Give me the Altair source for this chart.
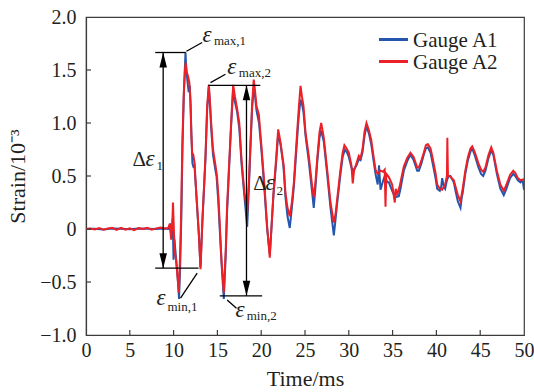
import altair as alt
import pandas as pd

# ---------------- data ----------------
t_a1 = [0, 1, 2, 3, 4, 5, 6, 7, 8, 9, 9.4,
        9.6, 9.75, 9.9, 9.99, 10.1, 10.2, 10.35, 10.5, 10.62, 10.75, 10.88, 11.02, 11.18, 11.3, 11.36,
        11.45, 11.6, 11.72, 11.85, 11.95, 12.05, 12.15, 12.25, 12.38, 12.5, 12.7, 12.9, 13.07,
        13.3, 13.5, 13.64, 13.83, 14.02, 14.15, 14.29, 14.5, 14.78, 14.9, 15.1, 15.47, 15.73,
        15.95, 16.1, 16.27, 16.55, 16.8, 17.0, 17.26, 17.5, 17.75, 18.09, 18.4, 18.6, 18.78,
        18.97, 19.15, 19.3, 19.46, 19.75, 20.03, 20.38, 20.68, 20.98, 21.2, 21.4, 21.7, 21.94,
        22.2, 22.5, 22.6, 22.77, 23.0, 23.26, 23.5, 23.73, 24.1, 24.3, 24.49, 24.65, 24.83,
        25.06, 25.43, 25.82, 26.0, 26.2, 26.39, 26.65, 26.85, 27.15, 27.53, 27.91, 28.29,
        28.5, 28.67, 29.05, 29.3, 29.55, 29.8, 30.0, 30.3, 30.5, 30.88, 31.14, 31.34, 31.56,
        31.8, 32.02, 32.3, 32.56, 32.8, 33.05, 33.3, 33.45, 33.62, 33.9, 34.1, 34.4, 34.57,
        34.95, 35.3, 35.71, 35.9, 36.28, 36.67, 37.04, 37.4, 37.81, 38.0, 38.3, 38.56, 38.8,
        39.02, 39.33, 39.52, 39.9, 40.09, 40.39, 40.55, 40.66, 40.85, 41.0, 41.2, 41.4, 41.6,
        41.99, 42.18, 42.45, 42.75, 42.9, 43.0, 43.3, 43.6, 43.89, 44.09, 44.4, 44.8, 45.1,
        45.34, 45.6, 45.95, 46.26, 46.5, 46.9, 47.3, 47.69, 48.0, 48.4, 48.77, 49.0, 49.3,
        49.6, 49.85, 50.0]
a1 = [0.0, 0.003, -0.004, 0.005, 0.002, -0.003, 0.004, 0.003, 0.0, 0.004, 0.0,
      0.03, -0.08, 0.1, -0.29, -0.1, -0.2, -0.35, -0.5, -0.66, -0.35, 0.1, 0.8, 1.3, 1.55, 1.665,
      1.5, 1.38, 1.29, 1.35, 1.15, 0.85, 0.62, 0.59, 0.6, 0.45, 0.18, -0.08, -0.36,
      0.1, 0.42, 0.66, 1.12, 1.34, 1.18, 0.95, 0.7, 0.55, 0.5, 0.26, -0.32, -0.66,
      -0.25, 0.15, 0.45, 0.95, 1.32, 1.2, 1.1, 0.95, 0.62, 0.3, 0.02, 0.4, 0.78,
      1.15, 1.33, 1.25, 1.12, 1.0, 0.74, 0.36, 0.0, -0.24, 0.05, 0.32, 0.62, 0.9,
      0.8, 0.62, 0.52, 0.3, 0.12, 0.01, 0.2, 0.4, 0.85, 1.08, 1.22, 1.18, 1.1,
      0.88, 0.64, 0.34, 0.2, 0.4, 0.62, 0.86, 0.93, 0.82, 0.52, 0.2, -0.06,
      0.1, 0.24, 0.52, 0.68, 0.75, 0.72, 0.68, 0.58, 0.55, 0.6, 0.66, 0.65, 0.72,
      0.88, 0.97, 0.9, 0.8, 0.66, 0.52, 0.42, 0.6, 0.37, 0.45, 0.5, 0.44, 0.44,
      0.36, 0.3, 0.31, 0.38, 0.55, 0.64, 0.7, 0.65, 0.55, 0.55, 0.62, 0.7, 0.76,
      0.77, 0.72, 0.64, 0.48, 0.38, 0.36, 0.4, 0.48, 0.4, 0.38, 0.46, 0.5, 0.5,
      0.44, 0.36, 0.26, 0.2, 0.3, 0.34, 0.52, 0.65, 0.73, 0.76, 0.69, 0.58, 0.52,
      0.5, 0.55, 0.67, 0.74, 0.7, 0.52, 0.38, 0.32, 0.38, 0.48, 0.52, 0.5, 0.46,
      0.44, 0.46, 0.37]

t_a2 = [0, 0.5, 1.0, 1.5, 2.0, 2.5, 3.0, 3.5, 4.0, 4.5, 5.0, 5.5, 6.0, 6.5, 7.0, 7.5, 8.0,
        8.5, 9.0, 9.4, 9.57, 9.72, 9.85, 9.93, 10.05, 10.14, 10.3, 10.45, 10.6, 10.72, 10.85,
        11.0, 11.15, 11.3, 11.38, 11.5, 11.65, 11.8, 11.92, 12.02, 12.12, 12.25, 12.4, 12.5,
        12.7, 12.88, 13.07, 13.3, 13.5, 13.64, 13.83, 14.02, 14.15, 14.29, 14.5, 14.78, 14.95,
        15.12, 15.47, 15.73, 15.95, 16.1, 16.27, 16.55, 16.8, 17.0, 17.26, 17.5, 17.75, 18.09,
        18.4, 18.6, 18.78, 18.97, 19.15, 19.3, 19.46, 19.73, 20.03, 20.38, 20.68, 20.98, 21.2,
        21.4, 21.7, 21.94, 22.2, 22.58, 22.77, 23.0, 23.26, 23.5, 23.73, 24.1, 24.3, 24.49,
        24.65, 24.83, 25.06, 25.43, 25.82, 26.0, 26.2, 26.39, 26.65, 26.85, 27.15, 27.53,
        27.91, 28.29, 28.5, 28.67, 29.05, 29.3, 29.5, 29.75, 30.0, 30.3, 30.45, 30.6, 30.88,
        31.14, 31.34, 31.56, 31.8, 32.02, 32.3, 32.56, 32.8, 33.05, 33.3, 33.62, 33.9, 34.1,
        34.19, 34.28, 34.57, 34.95, 35.25, 35.35, 35.53, 35.8, 36.0, 36.28, 36.67, 37.04,
        37.4, 37.81, 38.0, 38.3, 38.56, 38.8, 39.02, 39.33, 39.52, 39.9, 40.09, 40.39, 40.66,
        41.0, 41.2, 41.25, 41.32, 41.5, 41.99, 42.18, 42.45, 42.75, 43.0, 43.3, 43.6, 43.89,
        44.09, 44.4, 44.8, 45.1, 45.34, 45.6, 45.95, 46.26, 46.5, 46.9, 47.3, 47.69, 48.0,
        48.4, 48.77, 49.0, 49.3, 49.6, 50.0]
a2 = [0.0, 0.005, -0.004, 0.008, -0.006, 0.004, 0.012, -0.008, 0.01, -0.006, 0.006, -0.01,
      0.008, 0.0, 0.012, -0.006, 0.006, 0.014, 0.004, 0.01, 0.05, -0.1, 0.05, 0.25, -0.05,
      -0.22, -0.3, -0.45, -0.6, -0.3, 0.1,
      0.8, 1.25, 1.5, 1.57, 1.48, 1.44, 1.38, 1.2, 0.9, 0.72, 0.7, 0.62, 0.46,
      0.2, -0.04, -0.38, 0.1, 0.45, 0.69, 1.16, 1.36, 1.2, 1.0, 0.75, 0.6, 0.5,
      0.3, -0.3, -0.6, -0.2, 0.2, 0.5, 0.97, 1.36, 1.25, 1.13, 1.0, 0.66, 0.34,
      0.15, 0.45, 0.82, 1.19, 1.41, 1.3, 1.16, 1.08, 0.78, 0.4, 0.02, -0.27, 0.05,
      0.34, 0.66, 0.94, 0.82, 0.59, 0.34, 0.2, 0.12, 0.25, 0.44, 0.91, 1.15, 1.35,
      1.25, 1.16, 0.91, 0.69, 0.4, 0.3, 0.45, 0.66, 0.91, 1.0, 0.86, 0.56,
      0.25, 0.06, 0.15, 0.28, 0.56, 0.72, 0.79, 0.76, 0.72, 0.6, 0.43, 0.55, 0.62,
      0.69, 0.67, 0.75, 0.92, 1.0, 0.93, 0.84, 0.7, 0.56, 0.52, 0.55, 0.54, 0.56,
      0.21, 0.52, 0.49, 0.42, 0.25, 0.38, 0.33, 0.4, 0.48, 0.59, 0.67, 0.72,
      0.68, 0.58, 0.58, 0.65, 0.72, 0.79, 0.8, 0.76, 0.69, 0.53, 0.42, 0.38, 0.37,
      0.42, 0.5, 0.86, 0.5, 0.5, 0.46, 0.4, 0.32, 0.26, 0.38, 0.55, 0.68, 0.76,
      0.78, 0.72, 0.62, 0.56, 0.54, 0.58, 0.7, 0.77, 0.72, 0.55, 0.42, 0.36, 0.42,
      0.51, 0.55, 0.53, 0.48, 0.46, 0.47]

series_names = ["Gauge A1", "Gauge A2"]
series_colors = ["#2456ad", "#ec2027"]

x_ticks = [0, 5, 10, 15, 20, 25, 30, 35, 40, 45, 50]
y_ticks = [-1.0, -0.5, 0.0, 0.5, 1.0, 1.5, 2.0]
x_inner_ticks = [5, 10, 15, 20, 25, 30, 35, 40, 45]
y_inner_ticks = [-0.5, 0.0, 0.5, 1.0, 1.5]

# annotation segments (levels, double arrows, leader lines)
seg_x = [7.9, 7.9, 13.95, 15.27, 11.47, 14.21, 12.69, 16.12, 8.81, 18.32]
seg_x2 = [11.4, 12.85, 19.9, 20.11, 13.26, 15.92, 10.79, 17.18, 8.81, 18.32]
seg_y = [1.665, -0.37, 1.355, -0.63, 1.677, 1.381, -0.416, -0.669, -0.37, -0.63]
seg_y2 = [1.665, -0.37, 1.355, -0.63, 1.759, 1.46, -0.653, -0.747, 1.665, 1.355]

head_up_x = [8.81, 18.32]
head_up_y = [1.665, 1.355]
head_dn_x = [8.81, 18.32]
head_dn_y = [-0.37, -0.63]

eps_x = [13.3, 16.12, 8.05, 17.07, 6.79, 20.49]
eps_y = [1.763, 1.46, -0.716, -0.827, 0.592, 0.372]
sub_text = ["max,1", "max,2", "min,1", "min,2", "1", "2"]
sub_x = [14.6, 17.45, 9.3, 18.35, 8.05, 21.75]
sub_y = [1.734, 1.43, -0.773, -0.858, 0.561, 0.325]
delta_x = [5.3, 19.1]
delta_y = [0.592, 0.372]

# ---------------- tables ----------------
df = pd.concat([
    pd.DataFrame({"t": t_a1, "strain": a1, "gauge": series_names[0]}),
    pd.DataFrame({"t": t_a2, "strain": a2, "gauge": series_names[1]}),
], ignore_index=True)
seg_df = pd.DataFrame({"x": seg_x, "x2": seg_x2, "y": seg_y, "y2": seg_y2})
up_df = pd.DataFrame({"x": head_up_x, "y": head_up_y})
dn_df = pd.DataFrame({"x": head_dn_x, "y": head_dn_y})
eps_df = pd.DataFrame({"x": eps_x, "y": eps_y, "txt": ["ε"] * len(eps_x)})
sub_df = pd.DataFrame({"x": sub_x, "y": sub_y, "txt": sub_text})
delta_df = pd.DataFrame({"x": delta_x, "y": delta_y, "txt": ["Δ"] * len(delta_x)})
xt_df = pd.DataFrame({"v": x_inner_ticks})
yt_df = pd.DataFrame({"v": y_inner_ticks})

FONT = "Liberation Serif"
INK = "#231f20"
FRAME = "#3c3c3c"
W, H = 438, 318

xscale = alt.Scale(domain=[0, 50], nice=False, zero=False)
yscale = alt.Scale(domain=[-1.0, 2.0], nice=False, zero=False)

lines = alt.Chart(df).mark_line(strokeWidth=2, clip=True).encode(
    x=alt.X("t:Q", scale=xscale,
            axis=alt.Axis(title="Time/ms", values=x_ticks, labelPadding=5, titlePadding=8,
                          labelFlush=False, format="d")),
    y=alt.Y("strain:Q", scale=yscale,
            axis=alt.Axis(title="Strain/10⁻³", values=y_ticks, labelPadding=10, titlePadding=10,
                          labelFlush=False,
                          labelExpr="datum.value == 0 ? '0' : replace(format(datum.value, '.1f'), '-', '−')")),
    color=alt.Color("gauge:N",
                    scale=alt.Scale(domain=series_names, range=series_colors),
                    legend=None),
)

segs = alt.Chart(seg_df).mark_rule(color="black", strokeWidth=1.3).encode(
    x=alt.X("x:Q", scale=xscale), x2="x2:Q",
    y=alt.Y("y:Q", scale=yscale), y2="y2:Q")

up_heads = alt.Chart(up_df).mark_point(shape="M0,-1L-0.5,1L0.5,1Z", size=225, filled=True,
                                       color="black", opacity=1, yOffset=7.5).encode(
    x=alt.X("x:Q", scale=xscale), y=alt.Y("y:Q", scale=yscale))
dn_heads = alt.Chart(dn_df).mark_point(shape="M0,1L-0.5,-1L0.5,-1Z", size=225, filled=True,
                                       color="black", opacity=1, yOffset=-7.5).encode(
    x=alt.X("x:Q", scale=xscale), y=alt.Y("y:Q", scale=yscale))

eps_txt = alt.Chart(eps_df).mark_text(font=FONT, fontStyle="italic", fontSize=23, align="left",
                                      baseline="alphabetic", color=INK).encode(
    x=alt.X("x:Q", scale=xscale), y=alt.Y("y:Q", scale=yscale), text="txt:N")
sub_txt = alt.Chart(sub_df).mark_text(font=FONT, fontSize=13, align="left",
                                      baseline="alphabetic", color=INK).encode(
    x=alt.X("x:Q", scale=xscale), y=alt.Y("y:Q", scale=yscale), text="txt:N")
delta_txt = alt.Chart(delta_df).mark_text(font=FONT, fontSize=21, align="left",
                                          baseline="alphabetic", color=INK).encode(
    x=alt.X("x:Q", scale=xscale), y=alt.Y("y:Q", scale=yscale), text="txt:N")

x_tk = alt.Chart(xt_df).mark_rule(color=FRAME, strokeWidth=1.2).encode(
    x=alt.X("v:Q", scale=xscale), y=alt.value(H), y2=alt.value(H - 5))
y_tk = alt.Chart(yt_df).mark_rule(color=FRAME, strokeWidth=1.2).encode(
    y=alt.Y("v:Q", scale=yscale), x=alt.value(0), x2=alt.value(5))

# in-plot legend (short line + label per gauge)
leg_layers = []
leg_rows_y = [22.5, 44.5]
for name, col, ry in zip(series_names, series_colors, leg_rows_y):
    leg_df = pd.DataFrame({"name": [name]})
    leg_layers.append(alt.Chart(leg_df).mark_rule(color=col, strokeWidth=3).encode(
        x=alt.value(293), x2=alt.value(322), y=alt.value(ry)))
    leg_layers.append(alt.Chart(leg_df).mark_text(font=FONT, fontSize=21, color=INK, align="left",
                                                  baseline="middle").encode(
        x=alt.value(327), y=alt.value(ry + 1), text="name:N"))

chart = alt.layer(lines, segs, up_heads, dn_heads, eps_txt, sub_txt, delta_txt, x_tk, y_tk,
                  *leg_layers).properties(
    width=W, height=H,
    autosize=alt.AutoSizeParams(type="none"),
    padding={"left": 86, "top": 17, "right": 10, "bottom": 57},
    background="white",
).configure_view(stroke=FRAME, strokeWidth=1.2).configure_axis(
    grid=False, ticks=False, domainColor=FRAME, domainWidth=1.2,
    labelFont=FONT, labelFontSize=20, labelColor=INK,
    titleFont=FONT, titleFontSize=22, titleFontWeight="normal", titleColor=INK,
)

chart.save("out.html", embed_options={"renderer": "svg", "actions": False})
